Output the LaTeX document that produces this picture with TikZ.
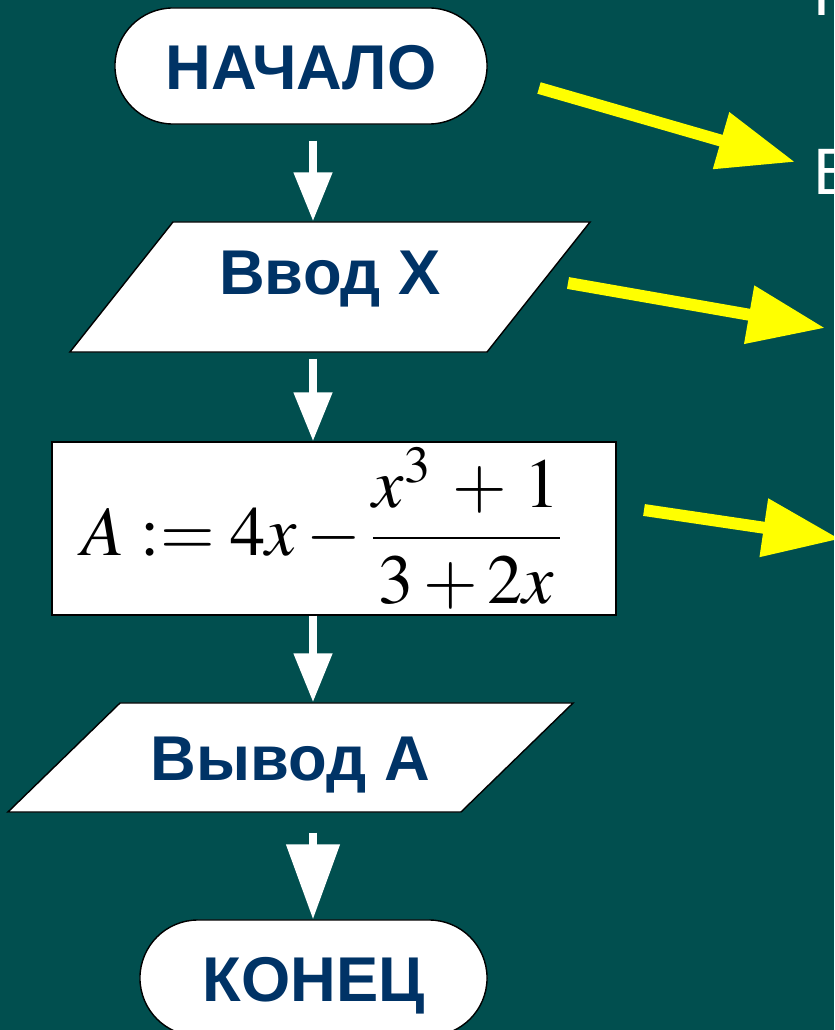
\documentclass[tikz,border=0pt]{standalone}
\usepackage{mathptmx}
\usepackage{fontspec}
\newfontfamily\labelfont{Liberation Sans}
\definecolor{slideteal}{RGB}{1, 79, 79}
\definecolor{labelnavy}{RGB}{0, 51, 102}
\definecolor{hintyellow}{RGB}{255, 255, 0}
\usetikzlibrary{shapes.misc, shapes.geometric, arrows.meta, positioning, calc}

\tikzset{
  termbox/.style={draw=black, line width=1pt, fill=white, rounded rectangle, minimum height=2.9cm, inner sep=0pt,
    text height=1.15cm, text depth=0pt, text=labelnavy, font=\labelfont\bfseries\fontsize{45}{54}\selectfont},
  iobox/.style={draw=black, line width=1pt, fill=white, trapezium, trapezium stretches body, inner xsep=0pt,
    text height=1.15cm, text=labelnavy, font=\labelfont\bfseries\fontsize{45}{54}\selectfont},
  procbox/.style={draw=black, line width=1pt, fill=white, minimum height=4.325cm, text width=12.6cm, align=left,
    inner xsep=0.75cm, inner ysep=0pt},
  flowarrow/.style={draw=white, line width=5.7pt, -{Triangle[width=0.925cm, length=1.225cm]}},
  bigtip/.style={-{Triangle[width=1.3cm, length=1.875cm]}},
  hintarrow/.style={draw=hintyellow, line width=8.5pt, -{Triangle[width=1.4cm, length=1.925cm]}},
  sidetext/.style={anchor=base west, inner sep=0pt, text=white, font=\labelfont\fontsize{46.7}{56}\selectfont}
}

\begin{document}
\begin{tikzpicture}[x=0.025cm, y=-0.025cm]
  \useasboundingbox (0,0) rectangle (834,1030);
  \clip (0,0) rectangle (834,1030);
  \fill[slideteal] (0,0) rectangle (834,1030);

  % Flowchart blocks
  \node[termbox, minimum width=9.3cm] (start) at (301,66) {НАЧАЛО};
  \node[iobox, trapezium left angle=51.6, trapezium right angle=128.4, minimum width=13cm,
    text depth=0.8cm, inner ysep=0.65cm] (input) at (330,287) {Ввод X};
  \node[procbox, minimum width=14.1cm] (calc) at (334,528.5)
    {\fontsize{50}{60}\selectfont$\displaystyle A:=4x-\frac{x^{3}\mkern3mu+\mkern2mu1}{3+2x}$};
  \node[iobox, trapezium left angle=44.2, trapezium right angle=135.8, minimum width=14.125cm,
    text depth=0pt, inner ysep=0.7875cm] (output) at (290.5,757.5) {Вывод A};
  \node[termbox, minimum width=8.675cm] (stop) at (313.5,978) {КОНЕЦ};

  % Arrows between blocks
  \coordinate (col) at (313,0);
  \draw[flowarrow, shorten <=0.4cm] (start.south -| col) -- (input.north -| col);
  \draw[flowarrow, shorten <=0.15cm] (input.south -| col) -- (calc.north -| col);
  \draw[flowarrow] (calc.south -| col) -- (output.north -| col);
  \draw[flowarrow, bigtip, shorten <=0.5cm] (output.south -| col) -- (stop.north -| col);

  % Pointers to the text on the right
  \coordinate (hint1s) at (539,88);
  \coordinate (hint1e) at (795,162);
  \coordinate (hint2s) at (568,283);
  \coordinate (hint2e) at (825,328);
  \coordinate (hint3s) at (644,510);
  \coordinate (hint3e) at (840,539);
  \draw[hintarrow] (hint1s) -- (hint1e);
  \draw[hintarrow] (hint2s) -- (hint2e);
  \draw[hintarrow] (hint3s) -- (hint3e);

  % Cut-off slide text
  \node[sidetext] (cutR) at (813,16) {Р};
  \node[sidetext] (cutB) at (813,195) {В};
\end{tikzpicture}
\end{document}
